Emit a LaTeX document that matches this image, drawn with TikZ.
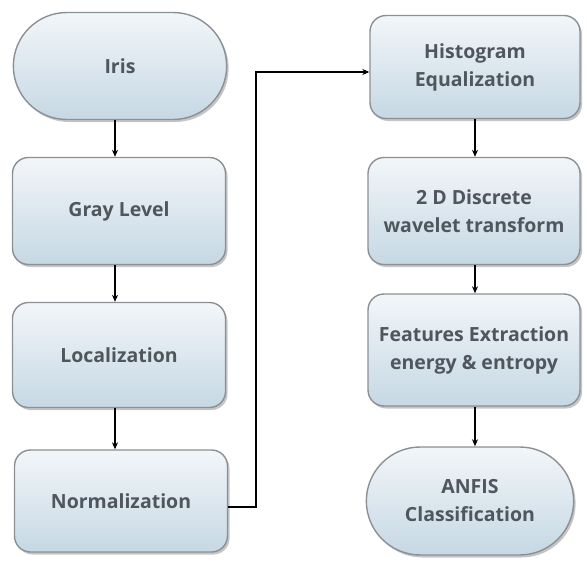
\documentclass[tikz,border=0pt]{standalone}
\usepackage{fontspec}
\setmainfont{Open Sans}
\usetikzlibrary{shapes.misc,shadows,arrows.meta}
\definecolor{txt}{HTML}{50565D}
\definecolor{bord}{HTML}{8C9094}
\definecolor{topc}{HTML}{F2F6F9}
\definecolor{botc}{HTML}{C6D8E4}
\tikzset{
  base/.style={draw=bord, line width=1.4pt, top color=topc, bottom color=botc,
    font=\bfseries\fontsize{19.5}{28}\selectfont, text=txt, align=center,
    drop shadow={shadow xshift=2pt, shadow yshift=-2.5pt, fill=black!45, opacity=0.5}},
  procbox/.style={base, rectangle, rounded corners=16pt},
  termbox/.style={base, rounded rectangle},
  conn/.style={line width=1.2pt, -{Stealth[length=7pt,width=6pt]}}
}
\begin{document}
\begin{tikzpicture}[x=1pt,y=-1pt]
\useasboundingbox (0,0) rectangle (587,562);
\node[termbox, minimum width=220pt, minimum height=107pt] (iris) at (120,66) {Iris};
\node[procbox, minimum width=213pt, minimum height=107pt] (gray) at (119,211) {Gray Level};
\node[procbox, minimum width=213pt, minimum height=105pt] (loc) at (119,355) {Localization};
\node[procbox, minimum width=213pt, minimum height=102pt] (norm) at (121,501) {Normalization};
\node[procbox, minimum width=210pt, minimum height=103pt] (hist) at (475,67) {Histogram\\Equalization};
\node[procbox, minimum width=212pt, minimum height=107pt] (dwt) at (474,211) {2 D Discrete\\wavelet transform};
\node[procbox, minimum width=212pt, minimum height=112pt] (feat) at (474,350) {Features Extraction\\energy \& entropy};
\node[termbox, minimum width=214pt, minimum height=108pt] (anfis) at (470,501) {ANFIS\\Classification};
\coordinate (c1) at (256,507);
\coordinate (c2) at (256,72);
\draw[conn] (iris.south -| 115,0) -- (gray.north -| 115,0);
\draw[conn] (gray.south -| 115,0) -- (loc.north -| 115,0);
\draw[conn] (loc.south -| 115,0) -- (norm.north -| 115,0);
\draw[conn] (hist.south -| 475,0) -- (dwt.north -| 475,0);
\draw[conn] (dwt.south -| 475,0) -- (feat.north -| 475,0);
\draw[conn] (feat.south -| 475,0) -- (anfis.north -| 475,0);
\draw[conn] (norm.east |- c1) -- (c1) -- (c2) -- (hist.west |- c2);
\end{tikzpicture}
\end{document}
